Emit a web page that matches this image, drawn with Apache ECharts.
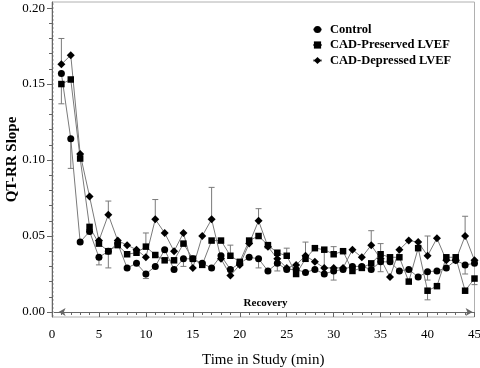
<!DOCTYPE html>
<html>
<head>
<meta charset="utf-8">
<script src="https://cdn.jsdelivr.net/npm/echarts@6/dist/echarts.min.js"></script>
<style>
  html, body { margin: 0; padding: 0; background: #fff; }
  #chart { width: 480px; height: 368px; }
</style>
</head>
<body>
<div id="chart"></div>
<script>
// minutes 1..45
const minutes = [1, 2, 3, 4, 5, 6, 7, 8, 9, 10, 11, 12, 13, 14, 15, 16, 17, 18, 19, 20, 21, 22, 23,
  24, 25, 26, 27, 28, 29, 30, 31, 32, 33, 34, 35, 36, 37, 38, 39, 40, 41, 42, 43, 44, 45];

const controlSlope = [0.157, 0.114, 0.046, 0.053, 0.036, 0.040, 0.045, 0.029, 0.032, 0.025, 0.030, 0.041,
  0.028, 0.035, 0.035, 0.032, 0.029, 0.037, 0.028, 0.032, 0.036, 0.035, 0.027, 0.032, 0.028, 0.028,
  0.026, 0.028, 0.025, 0.027, 0.028, 0.030, 0.030, 0.028, 0.033, 0.033, 0.027, 0.028, 0.023, 0.0265,
  0.027, 0.029, 0.034, 0.031, 0.032];
const preservedSlope = [0.150, 0.153, 0.101, 0.056, 0.045, 0.040, 0.044, 0.038, 0.039, 0.043, 0.0375, 0.034,
  0.034, 0.045, 0.035, 0.031, 0.047, 0.047, 0.037, 0.033, 0.047, 0.050, 0.044, 0.039, 0.037, 0.025,
  0.035, 0.042, 0.041, 0.038, 0.040, 0.027, 0.029, 0.032, 0.038, 0.036, 0.036, 0.020, 0.042, 0.014,
  0.017, 0.036, 0.036, 0.014, 0.022];
const depressedSlope = [0.163, 0.169, 0.104, 0.076, 0.047, 0.064, 0.047, 0.044, 0.041, 0.036, 0.061, 0.052,
  0.040, 0.052, 0.029, 0.050, 0.061, 0.035, 0.024, 0.031, 0.045, 0.060, 0.043, 0.035, 0.029, 0.031,
  0.037, 0.033, 0.029, 0.029, 0.029, 0.041, 0.036, 0.044, 0.035, 0.023, 0.041, 0.047, 0.046, 0.037,
  0.0485, 0.034, 0.034, 0.050, 0.034];

// error bars: [minute, end of bar] (bars are one-sided)
const controlErr = [[2, 0.0945], [5, 0.031], [10, 0.022], [14, 0.030], [22, 0.029], [24, 0.027],
  [30, 0.021], [35, 0.0265], [40, 0.021], [44, 0.025]];
const preservedErr = [[1, 0.137], [6, 0.029], [10, 0.052], [19, 0.044], [25, 0.042], [29, 0.029],
  [30, 0.043], [35, 0.045], [40, 0.008], [45, 0.018]];
const depressedErr = [[1, 0.180], [6, 0.073], [11, 0.074], [17, 0.082], [22, 0.068], [27, 0.046],
  [34, 0.0535], [40, 0.050], [44, 0.063]];

const yMajorTicks = [0, 0.05, 0.10, 0.15, 0.20];
const yMinorTicks = [0.01, 0.02, 0.03, 0.04, 0.06, 0.07, 0.08, 0.09, 0.11, 0.12, 0.13, 0.14,
  0.16, 0.17, 0.18, 0.19];

const seriesNames = ['Control', 'CAD-Preserved LVEF', 'CAD-Depressed LVEF'];

const FONT = '"Liberation Serif", "Times New Roman", serif';
const LINE_COLOR = '#7a7a7a';

const chart = echarts.init(document.getElementById('chart'));

// 点数据
const toPoints = vals => minutes.map((m, i) => [m, vals[i]]);
// 误差棒数据 [x, 均值, 端点]
const toErr = (errs, vals) => errs.map(e => [e[0], vals[minutes.indexOf(e[0])], e[1]]);

const renderErr = (params, api) => {
  const p0 = api.coord([api.value(0), api.value(1)]);
  const p1 = api.coord([api.value(0), api.value(2)]);
  const style = { stroke: LINE_COLOR, lineWidth: 1 };
  return {
    type: 'group',
    children: [
      { type: 'line', shape: { x1: p0[0], y1: p0[1], x2: p1[0], y2: p1[1] }, style },
      { type: 'line', shape: { x1: p1[0] - 3, y1: p1[1], x2: p1[0] + 3, y2: p1[1] }, style }
    ]
  };
};

const lineSeries = (name, vals, symbol, size) => ({
  name,
  type: 'line',
  data: toPoints(vals),
  symbol,
  symbolSize: size,
  showSymbol: true,
  lineStyle: { color: LINE_COLOR, width: 1 },
  itemStyle: { color: '#000' },
  z: 3
});

const errSeries = (data) => ({
  type: 'custom',
  renderItem: renderErr,
  data,
  silent: true,
  z: 2
});

const control = lineSeries(seriesNames[0], controlSlope, 'circle', 7);
control.markLine = {
  silent: true,
  symbol: ['arrow', 'arrow'],
  symbolSize: [6, 7],
  lineStyle: { color: '#666', width: 1, type: 'solid' },
  label: {
    show: true,
    position: 'middle',
    formatter: 'Recovery',
    fontFamily: FONT,
    fontWeight: 'bold',
    fontSize: 11,
    color: '#000',
    distance: 3
  },
  data: [[{ coord: [0.7, 0] }, { coord: [44.8, 0] }]]
};

// 左侧浅色虚线
const preserved = lineSeries(seriesNames[1], preservedSlope, 'rect', 6.5);
preserved.markLine = {
  silent: true,
  symbol: 'none',
  label: { show: false },
  lineStyle: { color: '#d0d0d0', width: 1, type: [2, 2] },
  data: [{ xAxis: 0.15 }]
};

const option = {
  animation: false,
  grid: {
    left: 52,
    right: 5.5,
    top: 2,
    bottom: 51,
    outerBoundsMode: 'none',
    show: true,
    borderColor: '#b0b0b0',
    borderWidth: 1
  },
  legend: {
    orient: 'vertical',
    left: 307,
    top: 18,
    itemWidth: 9,
    itemHeight: 9,
    itemGap: 2.5,
    data: seriesNames,
    textStyle: {
      fontFamily: FONT,
      fontWeight: 'bold',
      fontSize: 12.5,
      color: '#000',
      padding: [0, 0, 0, 3]
    }
  },
  xAxis: {
    type: 'value',
    min: 0,
    max: 45,
    interval: 5,
    name: 'Time in Study (min)',
    nameLocation: 'middle',
    nameGap: 36,
    nameMoveOverlap: false,
    nameTextStyle: { fontFamily: FONT, fontSize: 15, color: '#000' },
    axisLine: { lineStyle: { color: '#666' } },
    axisTick: { show: true, length: 5, lineStyle: { color: '#666' } },
    minorTick: { show: true, splitNumber: 5, length: 3, lineStyle: { color: '#666' } },
    axisLabel: { fontFamily: FONT, fontSize: 13, color: '#000', margin: 11 },
    splitLine: { show: false }
  },
  yAxis: [
    {
      type: 'value',
      min: -0.0033,
      max: 0.204,
      name: 'QT-RR Slope',
      nameLocation: 'middle',
      nameGap: 32,
      nameMoveOverlap: false,
      nameTextStyle: { fontFamily: FONT, fontSize: 15, fontWeight: 'bold', color: '#000' },
      axisLine: { show: true, lineStyle: { color: '#666' } },
      axisTick: { show: true, length: 5, customValues: yMajorTicks, lineStyle: { color: '#666' } },
      axisLabel: {
        customValues: yMajorTicks,
        formatter: v => v.toFixed(2),
        fontFamily: FONT,
        fontSize: 13,
        color: '#000',
        margin: 7
      },
      splitLine: { show: false }
    },
    {
      type: 'value',
      min: -0.0033,
      max: 0.204,
      position: 'left',
      offset: 0,
      axisLine: { show: false },
      axisTick: { show: true, length: 3, customValues: yMinorTicks, lineStyle: { color: '#666' } },
      axisLabel: { show: false },
      splitLine: { show: false }
    }
  ],
  series: [
    errSeries(toErr(controlErr, controlSlope)),
    errSeries(toErr(preservedErr, preservedSlope)),
    errSeries(toErr(depressedErr, depressedSlope)),
    control,
    preserved,
    lineSeries(seriesNames[2], depressedSlope, 'diamond', 8)
  ]
};

chart.setOption(option);
</script>
</body>
</html>
